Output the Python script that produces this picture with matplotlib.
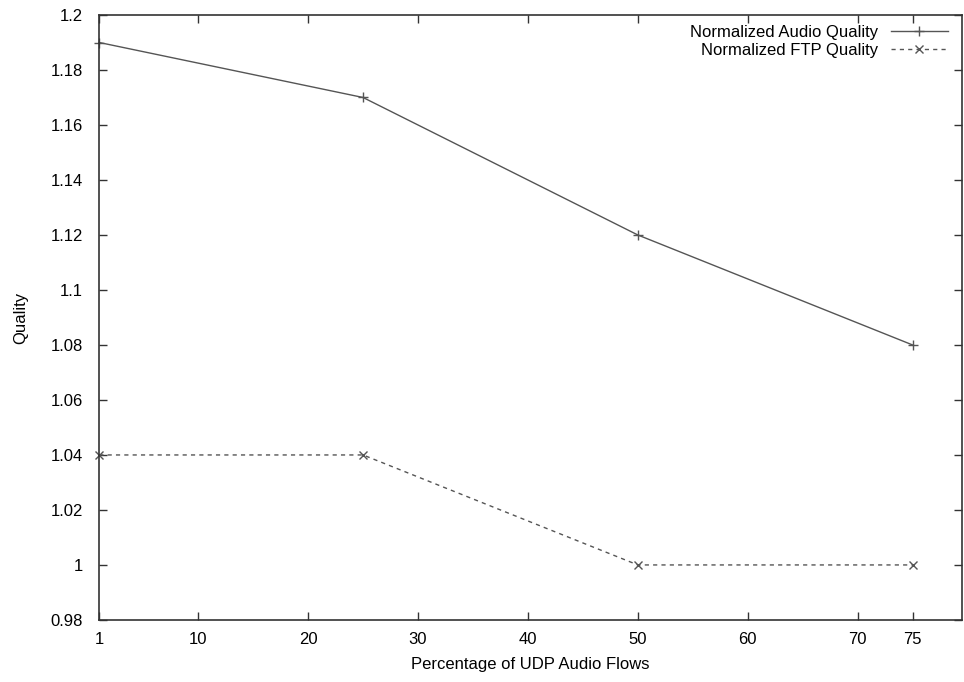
import matplotlib
matplotlib.use('Agg')
import matplotlib.pyplot as plt

plt.rcParams['font.family'] = ['Liberation Sans', 'DejaVu Sans']

'''
UDP audio flows vs quality
'''
udp_pct = [1, 25, 50, 75]
audio_quality = [1.19, 1.17, 1.12, 1.08]
ftp_quality = [1.04, 1.04, 1.00, 1.00]

xticks = [1, 10, 20, 30, 40, 50, 60, 70, 75]
yticks = [0.98, 1.0, 1.02, 1.04, 1.06, 1.08, 1.1, 1.12, 1.14, 1.16, 1.18, 1.2]
ytick_labels = ['0.98', '1', '1.02', '1.04', '1.06', '1.08', '1.1', '1.12', '1.14', '1.16', '1.18', '1.2']

fig = plt.figure(figsize=(9.64, 6.82), dpi=100)
ax = fig.add_axes([0.103, 0.091, 0.895, 0.887])

ax.plot(udp_pct, audio_quality, color='#555555', lw=1.0, marker='+', ms=6.5,
        mew=1.0, label='Normalized Audio Quality', clip_on=False)
ax.plot(udp_pct, ftp_quality, color='#555555', lw=1.0, ls=(0, (3, 3)), marker='x',
        ms=5.5, mew=1.0, label='Normalized FTP Quality', clip_on=False)

ax.set_xlim(1, 79.5)
ax.set_ylim(0.98, 1.2)
ax.set_xticks(xticks)
ax.set_xticklabels([str(t) for t in xticks])
ax.set_yticks(yticks)
ax.set_yticklabels(ytick_labels)
ax.tick_params(direction='in', length=6, width=1, top=True, right=True,
               labelsize=12, color='#333333')
ax.tick_params(axis='x', pad=9)
ax.tick_params(axis='y', pad=12)
for s in ax.spines.values():
    s.set_color('#333333')
    s.set_linewidth(1.2)

ax.set_xlabel('Percentage of UDP Audio Flows', fontsize=12, labelpad=7)
ax.set_ylabel('Quality', fontsize=12, labelpad=16)

ax.legend(loc='upper right', frameon=False, markerfirst=False, alignment='right',
          fontsize=12, handlelength=3.4, borderaxespad=0.2, labelspacing=0.15,
          handletextpad=0.8, bbox_to_anchor=(0.995, 1.0))

fig.savefig('out.png', dpi=100)
